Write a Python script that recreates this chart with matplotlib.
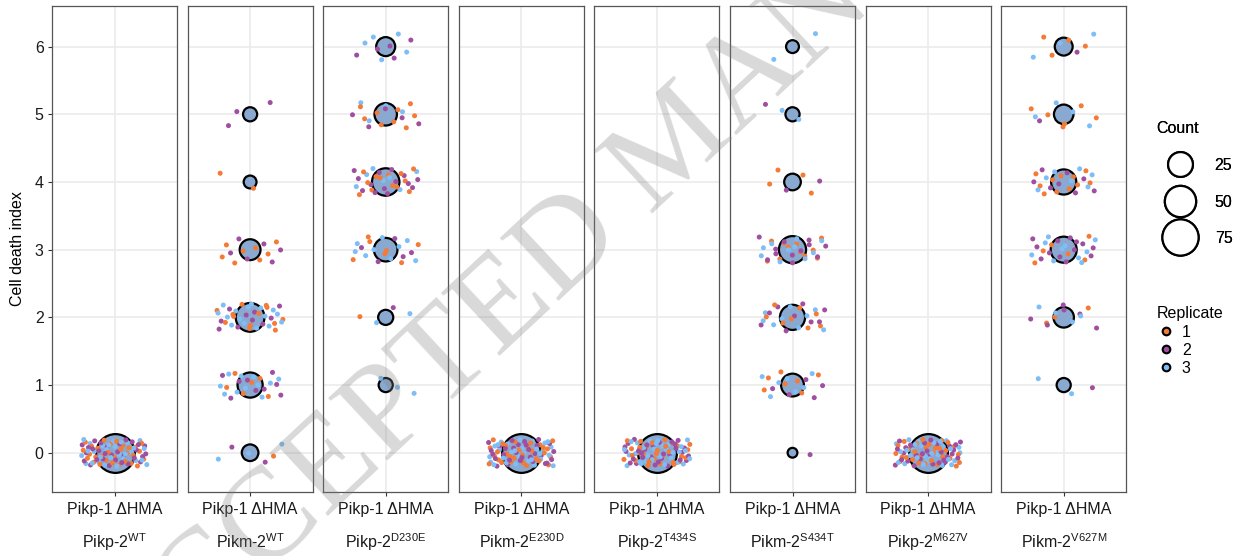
import matplotlib
matplotlib.use("Agg")
import matplotlib.pyplot as plt
from matplotlib.lines import Line2D
import numpy as np

plt.rcParams["font.family"] = ["Liberation Sans", "DejaVu Sans"]
plt.rcParams["mathtext.fontset"] = "custom"
plt.rcParams["mathtext.rm"] = "Liberation Sans"
plt.rcParams["mathtext.it"] = "Liberation Sans:italic"

# cell death scores 0..6, leaf counts per replicate for each construct
scores = [0, 1, 2, 3, 4, 5, 6]
effector = "Pikp-1 ΔHMA"
partners = ["Pikp-2", "Pikm-2", "Pikp-2", "Pikm-2", "Pikp-2", "Pikm-2", "Pikp-2", "Pikm-2"]
variants = ["WT", "WT", "D230E", "E230D", "T434S", "S434T", "M627V", "V627M"]

rep1 = [
    [30, 0, 0, 0, 0, 0, 0],
    [1, 6, 13, 8, 2, 0, 0],
    [0, 0, 1, 7, 13, 9, 0],
    [30, 0, 0, 0, 0, 0, 0],
    [30, 0, 0, 0, 0, 0, 0],
    [0, 7, 8, 11, 4, 0, 0],
    [30, 0, 0, 0, 0, 0, 0],
    [0, 0, 3, 6, 11, 6, 4],
]
rep2 = [
    [30, 0, 0, 0, 0, 0, 0],
    [2, 9, 10, 6, 0, 3, 0],
    [0, 0, 1, 5, 14, 5, 5],
    [30, 0, 0, 0, 0, 0, 0],
    [30, 0, 0, 0, 0, 0, 0],
    [1, 5, 9, 12, 2, 1, 0],
    [30, 0, 0, 0, 0, 0, 0],
    [0, 1, 6, 13, 8, 1, 1],
]
rep3 = [
    [30, 0, 0, 0, 0, 0, 0],
    [3, 11, 16, 0, 0, 0, 0],
    [0, 3, 2, 9, 7, 4, 5],
    [30, 0, 0, 0, 0, 0, 0],
    [30, 0, 0, 0, 0, 0, 0],
    [0, 7, 9, 10, 0, 2, 2],
    [30, 0, 0, 0, 0, 0, 0],
    [0, 2, 4, 10, 7, 4, 3],
]
count_breaks = [25, 50, 75]

rep_colors = ["#F47A36", "#A04EA0", "#7DBEF6"]
circle_fill = "#8AA9D0"

totals = np.array(rep1) + np.array(rep2) + np.array(rep3)
cmin, cmax = 1, totals.max()


def diam_pts(c):
    # area-style size scale: outer diameter grows with sqrt of the rescaled count
    px = 12 + 29 * np.sqrt((np.asarray(c, float) - cmin) / (cmax - cmin))
    return px * 0.72


def halton(i, base):
    f, r = 1.0, 0.0
    while i > 0:
        f /= base
        r += f * (i % base)
        i //= base
    return r


W, H = 12.39, 5.56
fig = plt.figure(figsize=(W, H), dpi=100)

left, pw, step = 52 / 1239, 125 / 1239, 135.6 / 1239
bottom, ph = 1 - 492 / 556, 486 / 556
circle_lw = 1.6
jit_w, jit_h = 0.32, 0.2

k = 1
axes = []
for p in range(len(variants)):
    ax = fig.add_axes([left + p * step, bottom, pw, ph])
    axes.append(ax)
    ax.set_xlim(0.4, 1.6)
    ax.set_ylim(-0.58, 6.6)

    n = totals[p]
    keep = n > 0
    sv = np.array(scores)[keep]
    ax.scatter(np.ones(keep.sum()), sv, s=(diam_pts(n[keep]) - circle_lw) ** 2,
               c=circle_fill, edgecolors="black", linewidths=circle_lw, zorder=3)

    # jittered leaves: positions come from a Halton sequence, drawing order is
    # interleaved across replicates so no colour sits on top of the others
    dots = []
    for si, s in enumerate(scores):
        for r, reps in enumerate((rep1, rep2, rep3)):
            for j in range(reps[p][si]):
                x = 1 + jit_w * (2 * halton(k, 2) - 1)
                y = s + jit_h * (2 * halton(k, 3) - 1)
                dots.append((j * 3 + r, x, y, rep_colors[r]))
                k += 1
    dots.sort(key=lambda d: d[0])
    ax.scatter([d[1] for d in dots], [d[2] for d in dots], s=13,
               c=[d[3] for d in dots], linewidths=0, zorder=4)

    ax.set_xticks([1])
    ax.set_xticklabels([effector])
    ax.set_yticks(scores)
    ax.grid(True, color="#EBEBEB", linewidth=1.2, zorder=0)
    ax.set_axisbelow(True)
    for sp in ax.spines.values():
        sp.set_color("#555555")
        sp.set_linewidth(0.9)
    ax.tick_params(axis="x", length=3, color="#333333", labelsize=11.5,
                   labelcolor="#1a1a1a", pad=4)
    ax.tick_params(axis="y", length=3, color="#333333", labelsize=11.5,
                   labelcolor="#1a1a1a", pad=3)
    if p > 0:
        ax.tick_params(axis="y", length=0, labelleft=False)

    ax.annotate(partners[p] + r"$^{\mathrm{" + variants[p] + "}}$",
                xy=(0.5, 0), xycoords="axes fraction", xytext=(0, -36),
                textcoords="offset points", ha="center", va="center",
                fontsize=11.5, color="#1a1a1a")

axes[0].set_ylabel("Cell death index", fontsize=11.5, labelpad=7)

# size legend
size_handles = [Line2D([], [], ls="", marker="o", markersize=diam_pts(b) - circle_lw,
                       mfc="white", mec="black", mew=circle_lw) for b in count_breaks]
leg1 = fig.legend(size_handles, [str(b) for b in count_breaks], title="Count",
                  loc="upper left", bbox_to_anchor=(1150 / 1239, 1 - 115 / 556),
                  frameon=False, fontsize=11.5, title_fontsize=11.5,
                  alignment="left", labelspacing=1.35, handlelength=2.9,
                  handletextpad=0.75, borderaxespad=0)
fig.add_artist(leg1)

rep_handles = [Line2D([], [], ls="", marker="o", markersize=5.5, mfc=c,
                      mec="black", mew=1.5) for c in rep_colors]
fig.legend(rep_handles, ["1", "2", "3"], title="Replicate",
           loc="upper left", bbox_to_anchor=(1150 / 1239, 1 - 300 / 556),
           frameon=False, fontsize=11.5, title_fontsize=11.5,
           alignment="left", labelspacing=0.2, handletextpad=0.4, handlelength=1.2,
           borderaxespad=0)

# diagonal page watermark
fig.text(678 / 1239, 1 - 146 / 556, "ACCEPTED MANUSCRIPT", fontsize=95,
         family="Liberation Serif", color="gray", alpha=0.3, rotation=43,
         rotation_mode="anchor", ha="center", va="center", zorder=10)

fig.savefig("out.png", dpi=100)
